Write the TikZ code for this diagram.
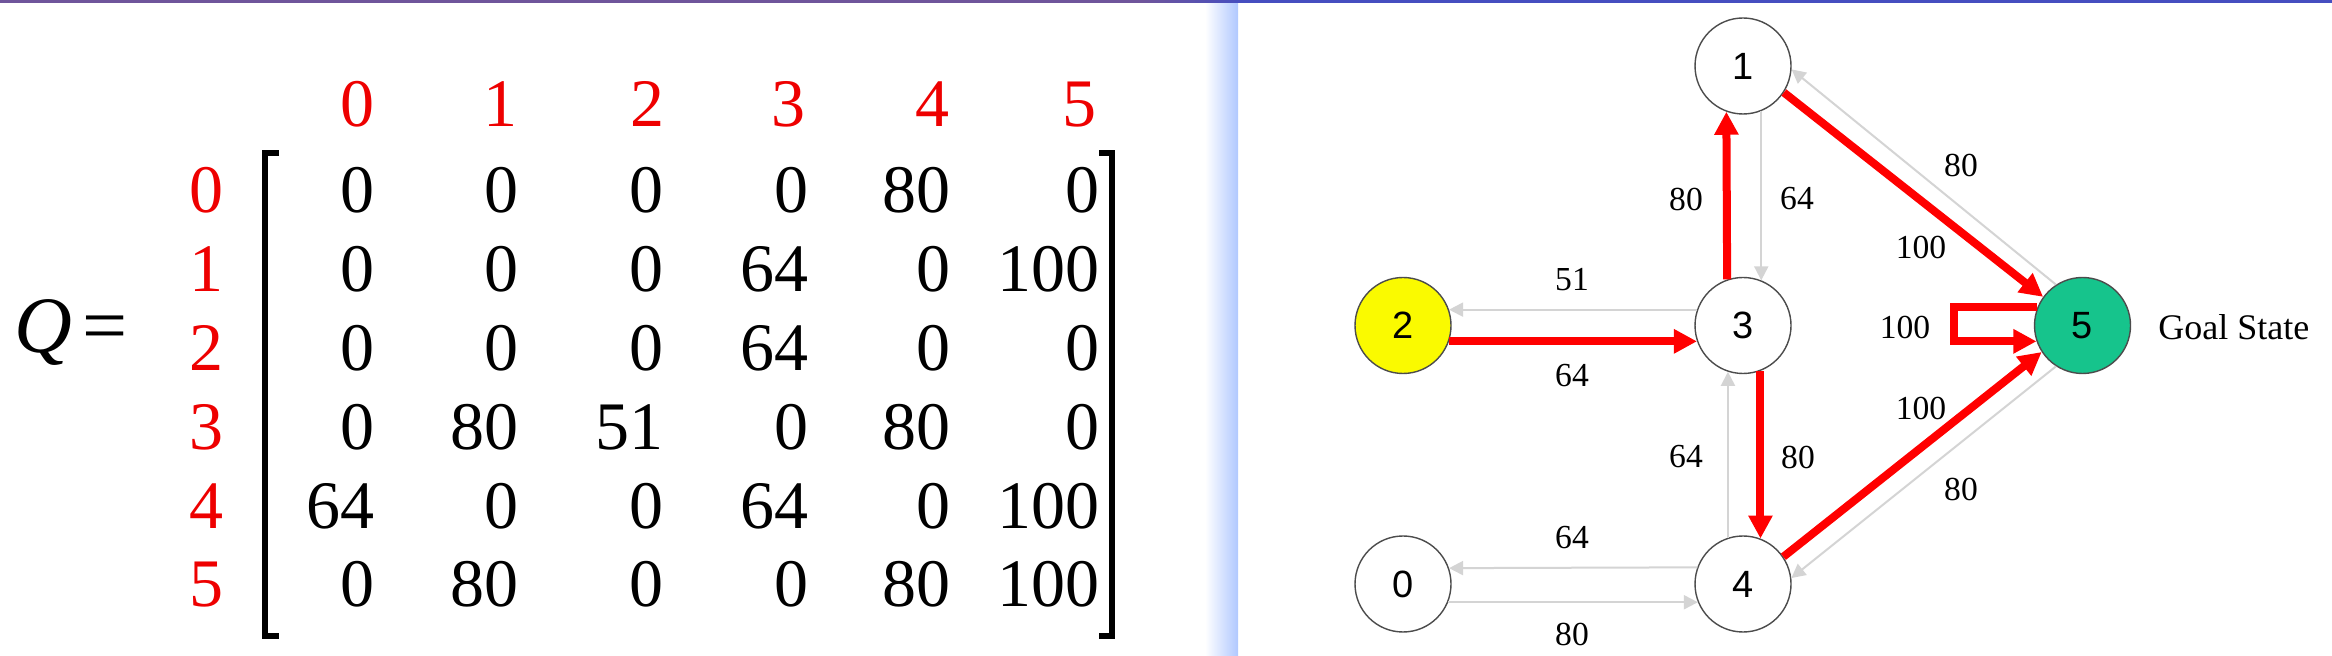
\documentclass[tikz,border=0pt]{standalone}
\usepackage{fontspec}
\setmainfont{Liberation Serif}
\newfontfamily\nodefont{Liberation Sans}
\usetikzlibrary{arrows.meta,calc}
\definecolor{barpurple}{RGB}{111,85,155}
\definecolor{barblue}{RGB}{70,78,192}
\definecolor{panelblue}{RGB}{176,200,255}
\definecolor{edgegray}{RGB}{212,212,212}
\definecolor{goalgreen}{RGB}{22,196,140}
\definecolor{qred}{RGB}{238,0,0}
\definecolor{nodeyellow}{RGB}{250,250,0}
\begin{document}
\begin{tikzpicture}[x=0.5pt,y=-0.5pt,
  state/.style={circle, draw=black!70, line width=0.7pt, minimum size=48pt, inner sep=0pt, fill=white,
    font=\nodefont\fontsize{19}{21}\selectfont},
  hot/.style={draw=red, line width=4pt, -{Triangle[length=11.5pt,width=11.5pt]}},
  cold/.style={draw=edgegray, line width=1pt, -{Triangle[length=7pt,width=7pt]}},
  elab/.style={font=\fontsize{16.8}{18}\selectfont, inner sep=0pt},
  ent/.style={font=\fontsize{34}{40}\selectfont, inner sep=0pt, anchor=base east},
  hdr/.style={font=\fontsize{34}{40}\selectfont, inner sep=0pt, anchor=base, text=qred},
  brk/.style={line width=3pt, line join=miter},
]
\useasboundingbox (0,0) rectangle (2332,656);
\fill[white] (0,0) rectangle (2332,656);
% top bar
\fill[barpurple] (0,0) rectangle (1141,3.5);
\foreach \i in {0,...,19}{
  \pgfmathsetmacro\p{100-5*\i}
  \fill[barpurple!\p!barblue] (1140+5*\i,0) rectangle (1146+5*\i,3.5);
}
\fill[barblue] (1240,0) rectangle (2332,3.5);
% panel edge gradient
\shade[left color=white, right color=panelblue] (1205,3.5) rectangle (1238,656);

% ---------- matrix ----------
\node[anchor=base west, inner sep=0pt, font=\fontsize{40}{48}\selectfont] (qlabel) at (14,353) {\textit{Q}\kern5pt=};
\foreach \c/\x in {0/357,1/500,2/647,3/788,4/932,5/1079}
  \node[hdr] (h\c) at (\x,127) {\c};
\foreach \r in {0,...,5}
  \node[hdr] (r\r) at (206,213+78.8*\r) {\r};
\foreach \r/\vals in {0/{0,0,0,0,80,0},1/{0,0,0,64,0,100},2/{0,0,0,64,0,0},
                      3/{0,80,51,0,80,0},4/{64,0,0,64,0,100},5/{0,80,0,0,80,100}}{
  \foreach \v [count=\c from 0] in \vals {
    \pgfmathsetmacro\xx{{375,519,664,809,951,1100}[\c]}
    \node[ent] (m\r\c) at (\xx,213+78.8*\r) {\v};
  }
}
\draw[brk] (279,153) -- (265,153) -- (265,636) -- (279,636);
\draw[brk] (1099,153) -- (1112,153) -- (1112,636) -- (1099,636);

% ---------- graph ----------
\node[state] (n1) at (1743,66) {1};
\node[state] (n3) at (1743,325.5) {3};
\node[state, fill=nodeyellow] (n2) at (1403,325.5) {2};
\node[state] (n4) at (1743,584) {4};
\node[state] (n0) at (1403,584) {0};
\node[state, fill=goalgreen] (n5) at (2082.5,325.5) {5};
\node[anchor=west, inner sep=0pt, font=\fontsize{18}{20}\selectfont] (goal) at (2158,327) {Goal State};

\draw[cold] (n1.292) -- (n3.68);
\draw[cold] (n5.123) -- (n1.-4);
\draw[cold] (n3.161) -- (n2.19);
\draw[cold] (n4.108) -- (n3.252);
\draw[cold] (n5.237) -- (n4.7);
\draw[cold] (n4.160.5) -- (n0.19.5);
\draw[cold] (n0.-22.7) -- (n4.202.7);

\draw[hot] (n3.109.5) -- (n1.250.5);
\draw[hot] (n1.-33) -- (n5.144);
\draw[hot] (n2.-19.5) -- (n3.199.5);
\draw[hot] (n3.-69.3) -- (n4.69.3);
\draw[hot] (n4.34) -- (n5.213.5);
\draw[hot, line join=miter] (n5.158.6) -| ($(n5.west)+(-80,0)$) |- (n5.199.5);

\node[elab] (l15b) at (1961,165) {80};
\node[elab] (l15a) at (1921,247) {100};
\node[elab] (l31) at (1686,199) {80};
\node[elab] (l13) at (1797,199) {64};
\node[elab] (l32) at (1572,279.5) {51};
\node[elab] (l23) at (1572,376) {64};
\node[elab] (l55) at (1905,327) {100};
\node[elab] (l45) at (1921,408) {100};
\node[elab] (l43) at (1686,457) {64};
\node[elab] (l34) at (1798,457) {80};
\node[elab] (l54) at (1961,489) {80};
\node[elab] (l40) at (1572,538) {64};
\node[elab] (l04) at (1572,634) {80};
\end{tikzpicture}
\end{document}
